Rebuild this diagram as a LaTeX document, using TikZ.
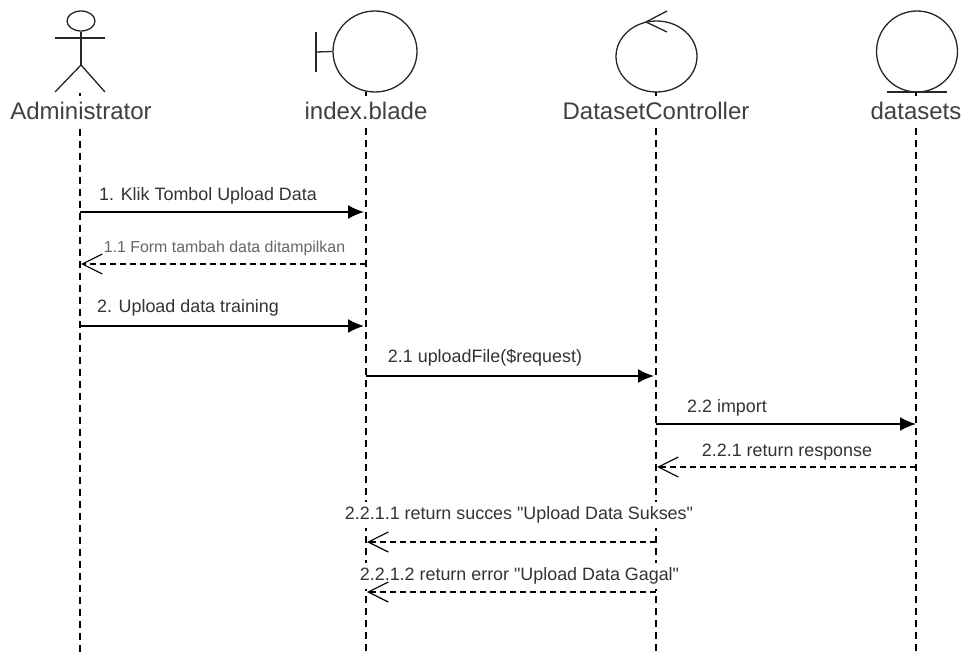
\documentclass[tikz,border=0pt]{standalone}
\usepackage{fontspec}
\setmainfont[Ligatures=TeXOff]{Liberation Sans}
\usepackage{tikz}
\usetikzlibrary{calc}
\usetikzlibrary{arrows.meta}
\usetikzlibrary{shapes.geometric}
\tikzset{
  figura/.style={draw, line width=1.3pt, black!85},
  vida/.style={line width=1.3pt, black, dash pattern=on 7pt off 5pt},
  nombre/.style={fill=white, inner sep=1pt, minimum height=30pt, text=black!75, font=\fontsize{24}{26}\selectfont},
  llamada/.style={line width=1.7pt, arrows={-Latex[length=16pt,width=14pt]}},
  respuesta/.style={line width=1.2pt, dash pattern=on 6pt off 4pt, arrows={-Straight Barb[length=20pt,width=20pt]}},
  mensaje/.style={fill=white, inner sep=1pt, minimum height=26pt, text=black!80, font=\fontsize{17.9}{20}\selectfont},
}
\begin{document}
\begin{tikzpicture}[x=1pt, y=-1pt]
  \useasboundingbox (0,0) rectangle (963,652);
  % cabeceras
  \node [figura, ellipse, inner sep=0, minimum width=28pt, minimum height=20pt] (cabeza) at (81,21) {};
  \draw [figura] (cabeza.south) -- (81,65) coordinate (cadera); % cuerpo
  \draw [figura] (55,38) coordinate (brazoa) -- (105,38) coordinate (brazob); % brazos
  \draw [figura] (55,92) coordinate (piea) -- (cadera) -- (105,92) coordinate (pieb);
  \node [figura, ellipse, inner sep=0, minimum width=84pt, minimum height=81pt] (vista) at (375,51.5) {};
  \draw [figura] (316,32) coordinate (barraa) -- (316,72) coordinate (barrab);
  \draw [figura] (316,52) -- (vista.west);
  \node [figura, ellipse, inner sep=0, minimum width=81pt, minimum height=71pt] (control) at (656.5,56.5) {};
  \draw [figura] (667,11) coordinate (flechaa) -- (646,22) coordinate (flechac) -- (667,32) coordinate (flechab);
  \node [figura, ellipse, inner sep=0, minimum width=81pt, minimum height=81pt] (tabla) at (917,51.5) {};
  \draw [figura] (887,92) coordinate (basea) -- (947,92) coordinate (baseb);
  % lineas de vida
  \coordinate (fina) at (80,652);
  \coordinate (finb) at (366,652);
  \coordinate (finc) at (656,652);
  \coordinate (find) at (916,652);
  \draw [vida] (80,93) coordinate (inia) -- (fina);
  \draw [vida] (366,92) coordinate (inib) -- (finb);
  \draw [vida] (656,92) coordinate (inic) -- (finc);
  \draw [vida] (916,92) coordinate (inid) -- (find);
  % nombres
  \node [nombre] (administrador) at (81,111) {Administrator};
  \node [nombre] (blade) at (366,111) {index.blade};
  \node [nombre] (controlador) at (656,111) {DatasetController};
  \node [nombre] (datos) at (916,111) {datasets};
  % textos
  \node [mensaje] (uno) at (208,196) {1. Klik Tombol Upload Data};
  \node [mensaje, text=black!60, font=\fontsize{15.9}{18}\selectfont] (unouno) at (224.5,248) {1.1 Form tambah data ditampilkan};
  \node [mensaje] (dos) at (188,308) {2. Upload data training};
  \node [mensaje] (dosuno) at (485,358) {2.1 uploadFile(\$request)};
  \node [mensaje] (dosdos) at (727,408) {2.2 import};
  \node [mensaje] (dosdosuno) at (787,452) {2.2.1 return response};
  \node [mensaje] (exito) at (519,515) {2.2.1.1 return succes "Upload Data Sukses"};
  \node [mensaje] (fallo) at (519.5,576) {2.2.1.2 return error "Upload Data Gagal"};
  % mensajes
  \coordinate (ma) at (80,212); \coordinate (mb) at (364,212);
  \coordinate (na) at (366,264); \coordinate (nb) at (81,264);
  \coordinate (oa) at (80,326); \coordinate (ob) at (364,326);
  \coordinate (pa) at (366,376); \coordinate (pb) at (654,376);
  \coordinate (qa) at (656,424); \coordinate (qb) at (916,424);
  \coordinate (ra) at (916,467); \coordinate (rb) at (657,467);
  \coordinate (sa) at (656,542); \coordinate (sb) at (367,542);
  \coordinate (ta) at (656,592); \coordinate (tb) at (367,592);
  \draw [llamada] (ma) -- (mb);
  \draw [respuesta] (na) -- (nb);
  \draw [llamada] (oa) -- (ob);
  \draw [llamada] (pa) -- (pb);
  \draw [llamada] (qa) -- (qb);
  \draw [respuesta] (ra) -- (rb);
  \draw [respuesta] (sa) -- (sb);
  \draw [respuesta] (ta) -- (tb);
\end{tikzpicture}
\end{document}
